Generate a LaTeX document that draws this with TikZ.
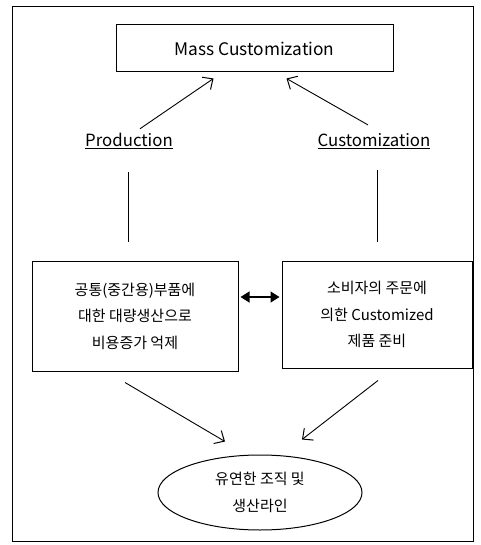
\documentclass[tikz,border=0pt]{standalone}
\usepackage{fontspec}
\setmainfont{Noto Sans CJK KR}
\usetikzlibrary{
    positioning,
    arrows.meta,
    shapes.geometric
}

\begin{document}
\begin{tikzpicture}[
    x=1pt, y=-1pt,
    font=\fontsize{15}{26.5}\selectfont,
    line width=0.9pt,
    box/.style={
        rectangle, draw=black, line width=1pt,
        align=center, inner sep=0pt
    },
    oval/.style={
        ellipse, draw=black, line width=1pt,
        minimum width=204pt, minimum height=75pt,
        align=center, inner sep=0pt
    },
    tag/.style={
        draw=none, fill=none, inner sep=1pt,
        font=\fontsize{16.8}{20}\selectfont
    },
    arr/.style={-{Straight Barb[length=8pt,width=15pt,line width=1pt]}},
    dblarr/.style={{Triangle[length=9pt,width=11pt]}-{Triangle[length=9pt,width=11pt]}, line width=1.3pt}
]

\useasboundingbox (0,0) rectangle (480,545);

% Frame
\draw[line width=1pt] (12,7) rectangle (473,541);

% Top
\node[box, minimum width=277pt, minimum height=47pt,
      font=\fontsize{17.3}{20}\selectfont] (mass) at (254.5,48.5)
    {Mass Customization};

% Labels
\node[tag] (prod) at (129,141) {\underline{Production}};
\node[tag] (cust) at (374,141) {\underline{Customization}};

% Boxes
\node[box, minimum width=206pt, minimum height=110pt] (common) at (135,316)
    {공통(중간용)부품에\\대한 대량생산으로\\비용증가 억제};
\node[box, minimum width=190pt, minimum height=107pt] (custom) at (377,314.5)
    {소비자의 주문에\\의한 Customized\\제품 준비};

% Bottom
\node[oval] (flex) at (260,492.5) {유연한 조직 및\\생산라인};

% Free line ends
\coordinate (pline) at (128,172);
\coordinate (cline) at (377,170);

% Arrows
\draw[arr] ([xshift=11pt,yshift=3pt]prod.north) -- ([xshift=-41pt,yshift=-6pt]mass.south);
\draw[arr] ([xshift=-6pt,yshift=7pt]cust.north) -- ([xshift=32pt,yshift=-6pt]mass.south);
\draw (pline) -- ([yshift=19pt]pline |- common.north);
\draw (cline) -- ([yshift=19pt]cline |- custom.north);
\draw[dblarr] ([xshift=2pt,yshift=19pt]common.east) -- ([xshift=-2pt,yshift=17.5pt]custom.west);
\draw[arr] ([xshift=-10pt,yshift=-11pt]common.south) -- ([xshift=-35pt,yshift=13pt]flex.north);
\draw[arr] ([xshift=1pt,yshift=-12pt]custom.south) -- ([xshift=42pt,yshift=15pt]flex.north);

\end{tikzpicture}
\end{document}
